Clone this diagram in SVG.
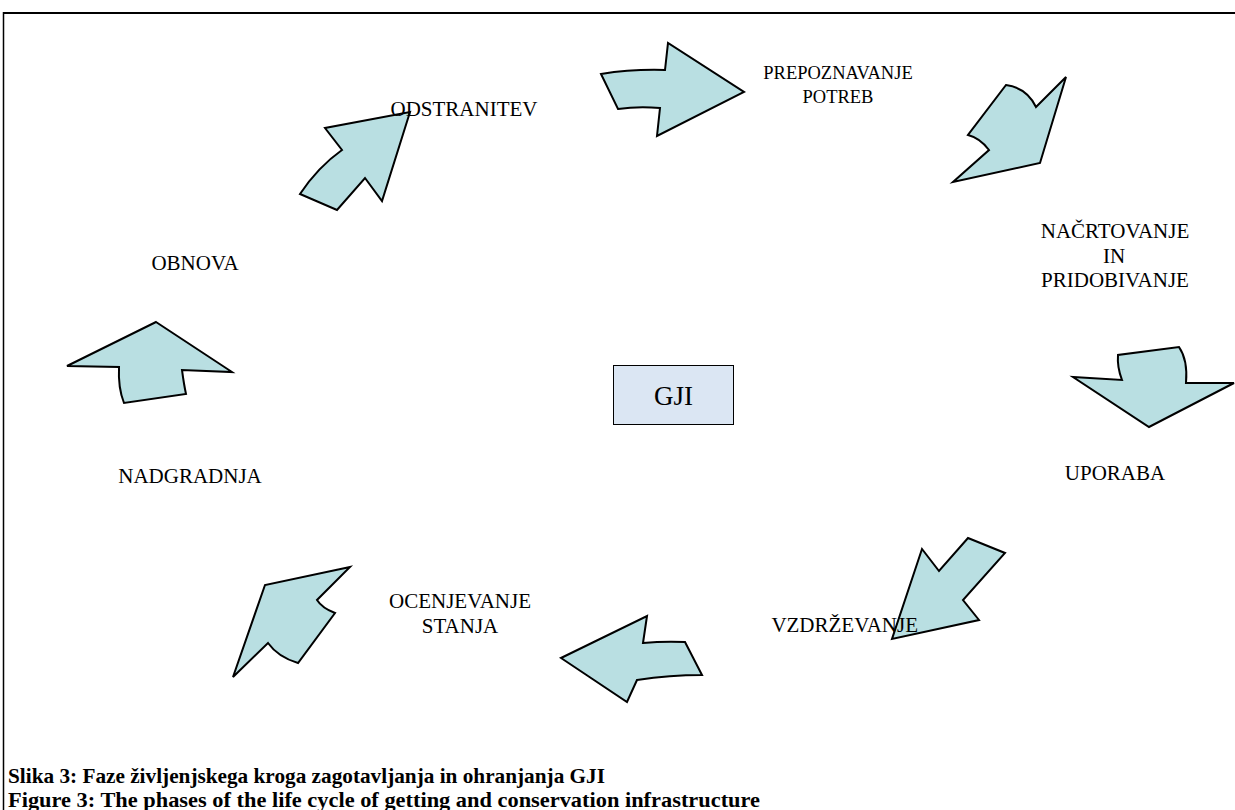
<svg xmlns="http://www.w3.org/2000/svg" width="1235" height="810" viewBox="0 0 1235 810">
<style>
.arr{fill:#b9dfe2;stroke:#000;stroke-width:2;stroke-linejoin:miter}
.lbl{font-family:"Liberation Serif","Times New Roman",serif;font-size:21px;fill:#000;text-anchor:middle}
.sm{font-size:18.5px}
.cap{font-family:"Liberation Serif","Times New Roman",serif;font-size:22px;font-weight:bold;fill:#000}
</style>
<rect width="1235" height="810" fill="#fff"/>
<g id="frame" fill="none" stroke="#000">
<line x1="3" y1="13" x2="1235" y2="13" stroke-width="2"/>
<line x1="3.5" y1="12" x2="3.5" y2="810" stroke-width="1.5"/>
</g>
<g id="connectors">
<path class="arr" d="M601,74 Q632,69 665,70 L668,43 L744,92 L657,136 L660,108 Q638,106 618,109 Z"/>
<path class="arr" d="M1066,77 L1036,107 Q1027,88 1006,85 L968,135 Q980,138 989,150 L953,182 L1040,163 Z"/>
<path class="arr" d="M1118,355 Q1117,367 1122,380 L1073,377 L1149,427 L1234,383 L1186,383 Q1188,360 1179,347 Z"/>
<path class="arr" d="M968,538 L1005,553 L963,600 L979,620 L892,639 L922,549 L939,571 Z"/>
<path class="arr" d="M647,616 L643,643 Q664,641 685,642 L702,675 Q670,675 637,680 L627,702 L561,658 Z"/>
<path class="arr" d="M350,567 L265,585 L233,677 L268,643 Q278,657 298,663 L335,613 Q322,608 317,600 Z"/>
<path class="arr" d="M156,322 L232,372 L182,370 Q184,385 186,394 L124,403 Q118,388 119,367 L67,366 Z"/>
<path class="arr" d="M410,112 L382,201 L365,178 L337,210 L300,194 Q318,167 342,150 L325,128 Z"/>
</g>
<g id="gji">
<rect x="613.5" y="365.5" width="120" height="59" fill="#dbe6f3" stroke="#000" stroke-width="1"/>
<text x="673.5" y="405" class="lbl" style="font-size:27px">GJI</text>
</g>
<g id="odstranitev"><text x="464" y="116" class="lbl">ODSTRANITEV</text></g>
<g id="prepoznavanje"><text x="838" y="79" class="lbl sm">PREPOZNAVANJE</text><text x="838" y="103" class="lbl sm">POTREB</text></g>
<g id="nacrtovanje"><text x="1115" y="238" class="lbl">NAČRTOVANJE</text><text x="1114" y="263" class="lbl">IN</text><text x="1115" y="287" class="lbl">PRIDOBIVANJE</text></g>
<g id="uporaba"><text x="1115" y="480" class="lbl">UPORABA</text></g>
<g id="vzdrzevanje"><text x="918" y="632" class="lbl" style="text-anchor:end">VZDRŽEVANJE</text></g>
<g id="ocenjevanje"><text x="460" y="608" class="lbl">OCENJEVANJE</text><text x="460" y="633" class="lbl">STANJA</text></g>
<g id="nadgradnja"><text x="190" y="483" class="lbl">NADGRADNJA</text></g>
<g id="obnova"><text x="195" y="270" class="lbl">OBNOVA</text></g>
<g id="caption">
<text x="8" y="783" class="cap" textLength="597" lengthAdjust="spacingAndGlyphs">Slika 3: Faze življenjskega kroga zagotavljanja in ohranjanja GJI</text>
<text x="8" y="807" class="cap" textLength="752" lengthAdjust="spacingAndGlyphs">Figure 3: The phases of the life cycle of getting and conservation infrastructure</text>
</g>
</svg>
